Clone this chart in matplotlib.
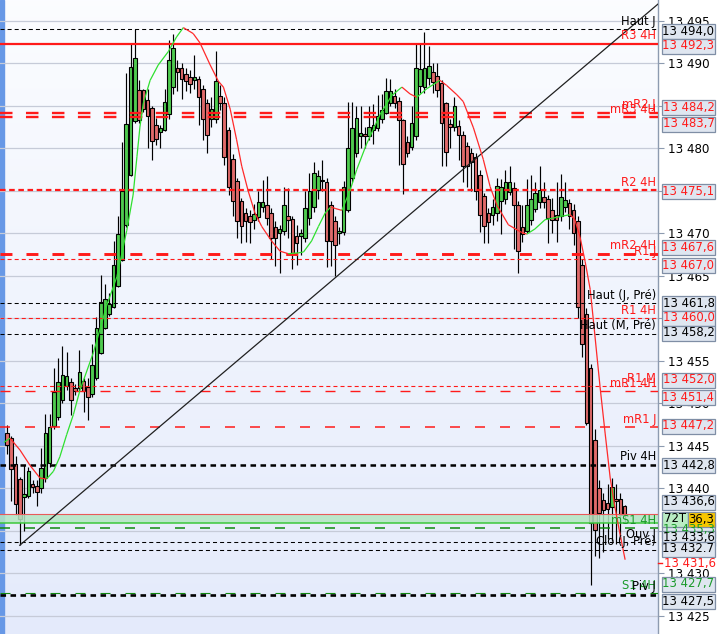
import numpy as np
import matplotlib
matplotlib.use("Agg")
import matplotlib.pyplot as plt
from matplotlib.patches import Rectangle
from matplotlib.collections import LineCollection
import matplotlib.transforms as mtrans

plt.rcParams['lines.scale_dashes'] = False
plt.rcParams['font.family'] = ['DejaVu Sans']

BASE = 13000.0
# OHLC (price - 13000)
opens = [446.5, 445.9, 442.9, 441.1, 439.0, 439.1, 440.5, 440.3, 440.0, 441.2,
         443.0, 447.3, 448.4, 450.4, 452.0, 452.5, 451.8, 451.8, 452.6, 451.9,
         451.1, 453.0, 455.9, 458.9, 460.5, 461.3, 463.8, 466.9, 471.0, 476.9,
         483.2, 486.9, 486.9, 485.7, 484.8, 482.8, 481.9, 482.2, 484.0, 487.2,
         489.5, 489.4, 488.7, 488.4, 488.0, 488.1, 487.0, 485.3, 483.4, 483.4,
         486.2, 485.3, 482.1, 478.7, 476.2, 473.8, 472.4, 472.0, 471.6, 471.9,
         473.1, 473.3, 472.4, 470.8, 470.0, 470.3, 472.0, 471.7, 469.7, 469.7,
         469.5, 471.8, 473.1, 475.1, 476.3, 476.0, 473.3, 471.4, 470.0, 470.1,
         472.8, 476.5, 479.4, 481.5, 481.7, 481.5, 482.2, 482.4, 483.5, 484.2,
         485.3, 486.1, 485.6, 483.3, 480.8, 480.1, 481.5, 487.3, 487.2, 488.3,
         489.0, 488.5, 487.7, 485.3, 482.9, 482.5, 482.6, 481.6, 480.3, 479.4,
         479.0, 476.9, 474.4, 472.4, 472.2, 472.4, 473.8, 474.0, 474.9, 475.3,
         473.3, 470.7, 470.3, 471.6, 472.9, 473.7, 474.3, 474.0, 472.7, 472.1,
         472.0, 473.1, 473.6, 472.8, 471.4, 466.3, 460.5, 454.2, 445.7, 440.0,
         438.6, 438.3, 437.8, 438.8, 438.8, 437.9]
highs = [447.4, 446.1, 443.8, 441.3, 442.8, 442.5, 441.0, 441.0, 444.8, 448.8,
         448.7, 454.1, 455.3, 456.8, 456.0, 453.0, 452.3, 456.3, 453.0, 453.0,
         457.0, 460.2, 465.1, 464.0, 463.0, 469.1, 472.0, 480.8, 488.9, 492.3,
         494.0, 488.0, 487.0, 487.0, 485.0, 483.6, 482.8, 487.0, 492.7, 493.5,
         490.4, 490.0, 489.5, 489.2, 491.0, 488.5, 487.5, 485.8, 486.0, 491.4,
         487.5, 486.0, 482.5, 479.3, 476.5, 474.2, 473.0, 472.8, 473.5, 475.0,
         476.3, 476.7, 473.0, 471.5, 471.0, 475.4, 475.3, 472.0, 471.0, 470.5,
         475.0, 477.1, 478.4, 477.5, 478.6, 476.5, 473.8, 472.0, 470.8, 476.2,
         485.4, 485.4, 485.0, 485.0, 482.5, 485.0, 485.2, 486.3, 486.4, 488.3,
         488.2, 487.0, 486.0, 483.5, 481.5, 485.0, 492.3, 492.3, 493.7, 492.0,
         490.0, 490.0, 488.0, 485.5, 483.5, 486.0, 483.3, 482.0, 480.8, 480.0,
         479.5, 477.5, 474.8, 473.0, 474.0, 476.5, 476.4, 477.5, 477.9, 476.0,
         473.8, 473.3, 476.4, 476.9, 476.0, 477.9, 476.0, 474.5, 474.2, 476.0,
         477.0, 476.0, 474.0, 473.5, 472.0, 467.0, 461.2, 454.6, 447.0, 441.0,
         439.5, 440.5, 441.2, 440.5, 439.5, 438.0]
lows = [444.0, 438.5, 436.9, 433.3, 435.0, 438.9, 439.5, 437.9, 439.5, 440.8,
        442.5, 447.0, 448.0, 450.0, 451.6, 448.6, 451.0, 451.5, 449.0, 448.0,
        450.8, 452.8, 455.8, 458.8, 460.3, 461.2, 463.7, 466.8, 470.8, 476.8,
        483.0, 483.0, 484.3, 480.0, 478.6, 480.4, 480.0, 482.0, 483.5, 486.4,
        486.8, 485.8, 486.7, 486.5, 487.0, 482.8, 481.0, 479.5, 482.5, 483.0,
        484.5, 478.0, 474.5, 472.0, 469.5, 468.9, 469.0, 468.9, 470.5, 471.5,
        472.5, 471.0, 467.0, 466.1, 465.3, 469.8, 469.5, 465.8, 466.3, 467.5,
        469.0, 471.0, 472.5, 474.0, 475.0, 466.0, 466.1, 465.0, 468.7, 469.8,
        472.5, 476.0, 479.0, 480.0, 480.0, 481.0, 480.5, 482.0, 483.0, 484.0,
        485.0, 484.8, 478.0, 474.6, 479.0, 479.8, 481.0, 486.5, 486.5, 487.5,
        486.5, 486.0, 477.9, 477.9, 480.0, 482.0, 478.6, 476.0, 475.4, 475.0,
        473.9, 470.1, 468.9, 468.9, 471.0, 471.5, 469.9, 473.5, 474.5, 468.1,
        465.3, 469.0, 470.0, 471.0, 472.5, 473.0, 473.0, 468.9, 470.0, 469.0,
        471.5, 472.5, 470.5, 468.6, 460.0, 455.5, 447.5, 428.6, 432.0, 431.8,
        432.5, 434.0, 433.8, 433.5, 434.0, 436.0]
closes = [445.1, 442.3, 438.1, 436.4, 439.3, 442.0, 440.1, 439.6, 442.4, 446.5,
          447.2, 451.3, 452.5, 453.3, 453.2, 450.4, 451.5, 453.7, 451.4, 450.8,
          454.5, 458.9, 461.9, 462.3, 461.7, 466.3, 469.9, 475.0, 482.9, 489.6,
          490.6, 483.3, 484.6, 483.8, 480.9, 481.1, 482.4, 485.4, 490.4, 491.8,
          489.0, 488.2, 487.9, 487.6, 488.4, 486.0, 483.5, 481.6, 484.6, 487.9,
          485.3, 479.0, 475.4, 473.8, 471.4, 470.9, 471.4, 471.3, 472.3, 473.7,
          473.7, 471.8, 469.4, 469.4, 470.5, 473.3, 471.6, 467.7, 468.9, 470.0,
          473.0, 475.0, 477.1, 476.7, 476.1, 469.1, 469.1, 468.6, 470.3, 475.4,
          480.0, 482.4, 483.6, 481.8, 481.4, 482.5, 482.8, 483.8, 484.5, 486.8,
          486.8, 485.3, 483.3, 478.1, 479.4, 483.0, 489.4, 489.3, 489.5, 489.7,
          487.8, 486.9, 483.0, 479.6, 482.5, 485.0, 481.6, 477.9, 477.9, 478.4,
          475.0, 472.1, 470.9, 471.3, 473.1, 475.6, 475.5, 476.0, 476.0, 473.3,
          467.9, 469.9, 473.3, 474.0, 474.7, 475.1, 473.7, 471.8, 471.6, 471.6,
          474.3, 473.9, 472.0, 470.0, 461.3, 457.0, 447.7, 435.9, 435.1, 437.1,
          437.4, 437.6, 440.2, 438.5, 436.9, 436.9]

# smoothed moving average (bar position, price - 13000)
ma_bar = [-0.7, 0.7, 3.05, 5.4, 7.75, 9.3, 10.9, 12.4, 14.0, 15.6, 17.1, 20.3,
          23.4, 25.8, 28.1, 29.6, 30.5, 31.2, 32.0, 33.6, 35.5, 37.9, 39.8, 41.4,
          43.7, 45.3, 47.7, 49.6, 50.8, 52.4, 53.9, 55.1, 56.6, 58.2, 59.8, 62.1,
          64.1, 66.0, 68.4, 69.6, 71.5, 73.1, 74.7, 76.0, 77.2, 78.6, 80.5, 82.1,
          84.4, 87.6, 90.3, 92.7, 94.6, 96.2, 98.5, 101.6, 103.2, 105.6, 107.1,
          109.5, 111.8, 113.4, 115.0, 117.7, 120.8, 122.0, 123.9, 126.3, 130.2,
          132.2, 133.3, 134.5, 135.7, 136.9, 137.6, 139.2, 140.4, 141.6, 142.7,
          143.9, 145.1]
ma_val = [445.4, 445.9, 444.5, 442.7, 441.2, 441.1, 442.0, 443.7, 446.3, 448.7,
          451.5, 456.0, 461.5, 464.9, 470.3, 474.5, 479.0, 482.5, 485.3, 488.0,
          489.8, 491.4, 493.1, 494.2, 493.5, 492.4, 489.8, 487.9, 487.2, 484.6,
          481.0, 477.9, 475.0, 472.4, 470.8, 469.1, 467.9, 467.6, 467.7, 467.8,
          469.1, 470.8, 472.4, 473.1, 472.9, 472.7, 475.0, 477.5, 480.5, 484.0,
          486.2, 487.2, 486.4, 486.0, 487.0, 488.0, 487.4, 486.3, 485.5, 482.4,
          478.7, 475.5, 473.3, 471.0, 470.1, 469.9, 470.5, 471.6, 472.0, 472.2,
          471.6, 469.6, 466.7, 463.4, 460.0, 452.0, 446.5, 441.2, 437.8, 434.6,
          431.6]

trend_bar = [3.0, 144.3]
trend_val = [433.3, 493.35]

level_names = ["Haut J", "R3 4H", "mR2 J", "mR3 4H", "R2 4H", "mR2 4H", "R1 J",
               "Haut (J, Pré)", "R1 4H", "Haut (M, Pré)", "R1 M", "mR1 4H", "mR1 J",
               "Piv 4H", "mS1 4H", "Ouv J", "Clo (J, Pré)", "S1 4H", "Piv J"]
level_prices = [494.0, 492.3, 484.2, 483.7, 475.1, 467.6, 467.0, 461.8, 460.0,
                458.2, 452.0, 451.4, 447.2, 442.8, 435.3, 433.65, 432.8, 427.7, 427.5]

band_low, band_high = 435.95, 436.95
box_texts = ["13 494,0", "13 492,3", "13 484,2", "13 483,7", "13 475,1", "13 467,6",
             "13 467,0", "13 461,8", "13 460,0", "13 458,2", "13 452,0", "13 451,4",
             "13 447,2", "13 442,8", "13 436,6", "13 435,3", "13 433,6", "13 432.7",
             "13 427,7", "13 427,5"]
last_tag = "72T"
last_price_txt = "36,3"
ma_last_txt = "13 431,6"
hidden_ticks = [13485, 13475, 13460, 13435]

# ---------------- styles ----------------
RED = '#ff1a1a'
GREEN_TXT = '#1a9a2a'
W, H = 717, 634
AXW = 658
px_per_pt = 8.5
y_top = 13490 + 63.3 / px_per_pt
y_bot = 13490 - (H - 63.3) / px_per_pt
bar_px = 4.26
x0_px = 7.0

fig = plt.figure(figsize=(W / 100, H / 100), dpi=100)
fig.patch.set_facecolor('white')
ax = fig.add_axes([0, 0, AXW / W, 1])
xmin = -x0_px / bar_px
xmax = (AXW - x0_px) / bar_px
ax.set_xlim(xmin, xmax)
ax.set_ylim(y_bot, y_top)

# gradient background
grad = np.linspace(0, 1, 256)[:, None]
top = np.array([0.985, 0.99, 1.0])
bot = np.array([0.895, 0.92, 0.985])
img = top[None, None, :] * (1 - grad[..., None]) + bot[None, None, :] * grad[..., None]
img = np.repeat(img, 2, axis=1)
ax.imshow(img, extent=[xmin, xmax, y_bot, y_top], aspect='auto', zorder=0,
          interpolation='bilinear')
ax.add_patch(Rectangle((0, 0), 4 / AXW, 1, transform=ax.transAxes,
                       color='#6798e6', zorder=1))

# grid
ticks = np.arange(13425, 13496, 5)
for t in ticks:
    ax.axhline(t, color='#c6cbd8', lw=0.9, zorder=1)

for sp in ['left', 'top', 'bottom']:
    ax.spines[sp].set_visible(False)
ax.spines['right'].set_color('#8d9bb0')
ax.spines['right'].set_linewidth(1.0)
ax.set_xticks([])
ax.yaxis.tick_right()
ax.set_yticks(ticks)
ax.set_yticklabels(["" if t in hidden_ticks else f"13 {int(t) - 13000:03d}" for t in ticks])
ax.tick_params(axis='y', length=4, color='#8d9bb0', pad=3, labelsize=8.6,
               labelcolor='black')

# candles
o = np.array(opens) + BASE
h = np.array(highs) + BASE
l = np.array(lows) + BASE
c = np.array(closes) + BASE
xs = np.arange(len(o))
up = c >= o
cols = np.where(up, '#4fcb4f', '#e06a6a')
ax.vlines(xs, l, h, color='black', lw=0.85, zorder=3)
bottom = np.minimum(o, c)
height = np.maximum(np.abs(c - o), 0.15)
ax.bar(xs, height, bottom=bottom, width=0.84, color=cols, edgecolor='black',
       linewidth=0.8, zorder=4)

# level lines
short = (0, (2.9, 2.2))
styles = {
    "Haut J": ('black', 0.75, short, 5),
    "R3 4H": (RED, 1.6, '-', 5),
    "mR2 J": (RED, 1.7, (0, (9.0, 9.7)), 5),
    "mR3 4H": (RED, 1.7, (0, (9.0, 9.7)), 5),
    "R2 4H": (RED, 1.6, (0, (4.0, 2.6)), 5),
    "mR2 4H": (RED, 2.1, (0, (8.6, 10.1)), 5),
    "R1 J": (RED, 0.8, short, 5),
    "Haut (J, Pré)": ('black', 0.75, short, 5),
    "R1 4H": (RED, 0.8, short, 5),
    "Haut (M, Pré)": ('black', 0.75, short, 5),
    "R1 M": (RED, 0.8, short, 5),
    "mR1 4H": (RED, 1.0, (0, (7.2, 10.8)), 5),
    "mR1 J": (RED, 1.1, (0, (7.2, 10.8)), 5),
    "Piv 4H": ('black', 1.8, (0, (4.0, 3.2)), 5),
    "mS1 4H": ('#108a10', 1.1, (0, (7.2, 10.8)), 5),
    "Ouv J": ('black', 0.75, short, 5),
    "Clo (J, Pré)": ('black', 0.75, short, 5),
    "S1 4H": ('#108a10', 0.8, (0, (7.2, 10.8)), 4.8),
    "Piv J": ('black', 1.9, (0, (4.0, 3.2)), 5.2),
}
label_col = {"black": 'black', RED: RED, '#108a10': GREEN_TXT}

# band
ax.axhspan(band_low + BASE, band_high + BASE, color='#b4e6c2', alpha=0.85, zorder=4.5, lw=0)
ax.axhline(band_high + BASE, color='#e85a5a', lw=0.8, zorder=5)
ax.axhline(band_low + BASE, color='#3cc83c', lw=1.1, zorder=5)

blend = mtrans.blended_transform_factory(ax.transAxes, ax.transData)
for name, p in zip(level_names, level_prices):
    col, lw, ls, zo = styles[name]
    ax.axhline(p + BASE, color=col, lw=lw, linestyle=ls, zorder=zo)
    ax.text(0.997, p + BASE + 0.15, name, transform=blend,
            ha='right', va='bottom', fontsize=8.3, color=label_col[col], zorder=7)

# trend line
slope = (trend_val[1] - trend_val[0]) / (trend_bar[1] - trend_bar[0])
tx = np.array([trend_bar[0], xmax + 1])
ty = trend_val[0] + slope * (tx - trend_bar[0]) + BASE
ax.plot(tx, ty, color='#202020', lw=0.9, zorder=6)

# moving average (green rising, red falling)
mx = np.array(ma_bar)
my = np.array(ma_val) + BASE
segs = [[(mx[i], my[i]), (mx[i + 1], my[i + 1])] for i in range(len(mx) - 1)]
seg_cols = ['#2fe02f' if my[i + 1] >= my[i] else '#ff2a2a' for i in range(len(mx) - 1)]
ax.add_collection(LineCollection(segs, colors=seg_cols, linewidths=0.9, zorder=6))

# right-side value boxes (pixel layout)
box_y = [31, 46, 107, 124, 191, 248, 265, 303, 318, 333, 380, 397, 426, 465, 502,
         530, 538, 549, 584, 601]
box_col = ['black', RED, RED, RED, RED, RED, RED, 'black', RED, 'black', RED, RED,
           RED, 'black', 'black', GREEN_TXT, 'black', 'black', GREEN_TXT, 'black']


def fx(px):
    return px / W


def fy(py):
    return 1 - py / H


def box(x0, x1, yc, txt, col, fc='#dfe6f0', hgt=15):
    fig.add_artist(Rectangle((fx(x0), fy(yc + hgt / 2)), (x1 - x0) / W, hgt / H,
                             transform=fig.transFigure, facecolor=fc,
                             edgecolor='#7f8ea5', lw=0.9, zorder=3))
    fig.text(fx((x0 + x1) / 2), fy(yc), txt, ha='center', va='center',
             fontsize=8.4, color=col, zorder=4)


for txt, yc, col in zip(box_texts[:15], box_y[:15], box_col[:15]):
    box(662, 715, yc, txt, col)
box(662, 715, box_y[15], box_texts[15], box_col[15])
box(662, 688, 519, last_tag, 'black', fc='#b9ecc3')
box(688, 715, 519, last_price_txt, 'black', fc='#f7c600')
for txt, yc, col in zip(box_texts[16:], box_y[16:], box_col[16:]):
    box(662, 715, yc, txt, col)
fig.add_artist(plt.Line2D([fx(658), fx(662)], [fy(563), fy(563)], color=RED, lw=1,
                          transform=fig.transFigure, zorder=4))
fig.text(fx(664), fy(563), ma_last_txt, ha='left', va='center', fontsize=8.4,
         color=RED, zorder=4)

fig.savefig('out.png', dpi=100)
